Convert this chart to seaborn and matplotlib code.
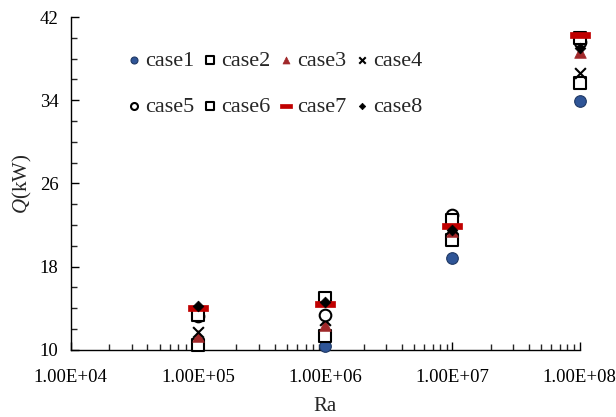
import numpy as np
import pandas as pd
import seaborn as sns
import matplotlib.pyplot as plt
from matplotlib.path import Path
from matplotlib.ticker import FuncFormatter, FixedLocator, MultipleLocator

ra = [1e5, 1e6, 1e7, 1e8]
case1 = [np.nan, 10.4, 18.8, 33.9]
case2 = [10.5, 11.3, 20.6, 35.7]
case3 = [11.3, 12.4, 21.4, 38.6]
case4 = [11.7, 12.9, 21.7, 36.6]
case5 = [13.3, 13.4, 23.0, 39.6]
case6 = [13.4, 15.0, 22.5, 40.0]
case7 = [14.0, 14.4, 21.9, 40.3]
case8 = [14.2, 14.6, 21.5, 39.0]

cases = ['case1', 'case2', 'case3', 'case4', 'case5', 'case6', 'case7', 'case8']
values = [case1, case2, case3, case4, case5, case6, case7, case8]
yticks = [10, 18, 26, 34, 42]
xticks = [1e4, 1e5, 1e6, 1e7, 1e8]

df = pd.DataFrame({
    'Ra': ra * len(cases),
    'Q': sum(values, []),
    'case': np.repeat(cases, len(ra)),
})

sns.set_style('white')
plt.rcParams['font.family'] = ['Liberation Serif', 'DejaVu Serif']
plt.rcParams['mathtext.fontset'] = 'custom'
plt.rcParams['mathtext.it'] = 'Liberation Serif:italic'

# wide flat bar for case7
dash = Path([(-1, -0.28), (1, -0.28), (1, 0.28), (-1, 0.28), (-1, -0.28)],
            [Path.MOVETO, Path.LINETO, Path.LINETO, Path.LINETO, Path.CLOSEPOLY])

styles = {
    'case1': dict(marker='o', s=70, color='#2F5597', edgecolor='#1F3864', linewidth=0.8),
    'case2': dict(marker='s', s=80, color='white', edgecolor='black', linewidth=1.5),
    'case3': dict(marker='^', s=70, color='#A0282A', edgecolor='#A0282A', linewidth=0.5),
    'case4': dict(marker='x', s=60, color='black', linewidth=1.5),
    'case5': dict(marker='o', s=70, color='white', edgecolor='black', linewidth=1.5),
    'case6': dict(marker='s', s=80, color='white', edgecolor='black', linewidth=1.5),
    'case7': dict(marker=dash, s=190, color='#C00000', edgecolor='#C00000', linewidth=0.5),
    'case8': dict(marker='D', s=30, color='black', edgecolor='black', linewidth=0.5),
}

fig = plt.figure(figsize=(6.16, 4.17), dpi=100)
ax = fig.add_axes([0.115, 0.161, 0.826, 0.798])

for c in cases:
    sns.scatterplot(data=df[df['case'] == c], x='Ra', y='Q', ax=ax, label=c,
                    zorder=3, clip_on=False, **styles[c])

ax.set_xscale('log')
ax.set_xlim(1e4, 1e8)
ax.set_ylim(10, 42)
ax.xaxis.set_major_locator(FixedLocator(xticks))
ax.xaxis.set_major_formatter(FuncFormatter(lambda v, p: f'{v:.2E}'))
ax.yaxis.set_major_locator(FixedLocator(yticks))
ax.yaxis.set_minor_locator(MultipleLocator(2))

ax.tick_params(axis='both', which='major', direction='in', length=6, width=1,
               labelsize=13.5, colors='black', pad=9)
ax.tick_params(axis='x', which='major', pad=14)
ax.tick_params(axis='both', which='minor', direction='in', length=4, width=1)
ax.tick_params(axis='x', which='both', bottom=True)
ax.tick_params(axis='y', which='both', left=True)

for side in ['top', 'right']:
    ax.spines[side].set_visible(False)
for side in ['left', 'bottom']:
    ax.spines[side].set_color('black')
    ax.spines[side].set_linewidth(1)

ax.set_xlabel('Ra', fontsize=15, labelpad=8)
ax.set_ylabel(r'$Q$(kW)', fontsize=15, labelpad=4)

# matplotlib fills legend columns first, so reorder to read row by row
handles, labels = ax.get_legend_handles_labels()
order = [0, 4, 1, 5, 2, 6, 3, 7]
ax.legend([handles[i] for i in order], [labels[i] for i in order],
          ncol=4, frameon=False, loc='upper left', bbox_to_anchor=(0.065, 0.96),
          fontsize=16, handletextpad=0.05, columnspacing=0.25, labelspacing=1.15,
          handlelength=0.9, markerscale=0.6)

plt.savefig('out.png', dpi=100)
